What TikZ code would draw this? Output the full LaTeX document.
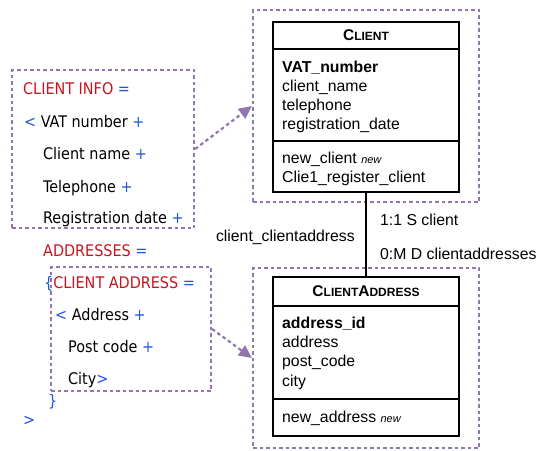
\documentclass[tikz,border=0pt]{standalone}
\usepackage{fontspec}
\setmainfont{Liberation Sans}
\newfontfamily\tahoma{DejaVu Sans Condensed}
\usetikzlibrary{arrows.meta}
\definecolor{dred}{RGB}{200,20,30}
\definecolor{dblue}{RGB}{35,85,215}
\definecolor{dpurple}{RGB}{145,118,178}
\tikzset{
  ddtxt/.style={anchor=base west, inner sep=0pt, font=\tahoma\fontsize{16}{19}\selectfont},
  umltxt/.style={anchor=base west, inner sep=0pt, font=\fontsize{15.8}{18}\selectfont},
  umlbold/.style={umltxt, font=\bfseries\fontsize{15.8}{18}\selectfont},
  hdr/.style={anchor=base, inner sep=0pt, font=\bfseries\fontsize{15.5}{17}\selectfont},
  framebox/.style={draw=dpurple, line width=2.2pt, dash pattern=on 3.5pt off 3pt, inner sep=0pt},
  classbox/.style={draw=black, line width=1.8pt, inner sep=0pt},
  linkarrow/.style={draw=dpurple, line width=2.2pt, dash pattern=on 3.5pt off 3pt, -{Triangle[length=13pt,width=12pt]}},
}
\newcommand{\smc}[1]{{\fontsize{12}{13}\selectfont #1}}
\newcommand{\newtag}{{\itshape\fontsize{11}{12}\selectfont new}}
\begin{document}
\begin{tikzpicture}[x=1pt,y=-1pt]
\useasboundingbox (0,0) rectangle (540,450);

% dashed frames
\node[framebox, minimum width=182pt, minimum height=158pt] (info) at (103,149) {};
\node[framebox, minimum width=160pt, minimum height=124pt] (addrframe) at (131,329) {};
\node[framebox, minimum width=226pt, minimum height=192pt] (clframe) at (366,106) {};
\node[framebox, minimum width=226pt, minimum height=180pt] (caframe) at (366,358) {};

% class boxes
\node[classbox, minimum width=186pt, minimum height=170pt] (cl) at (366,107) {};
\draw[line width=1.8pt] (273,49) -- (459,49);
\draw[line width=1.8pt] (273,141) -- (459,141);
\node[classbox, minimum width=186pt, minimum height=159pt] (ca) at (366,356.5) {};
\draw[line width=1.8pt] (273,306) -- (459,306);
\draw[line width=1.8pt] (273,399) -- (459,399);

% client class text
\node[hdr] (clh) at (366,40) {C\smc{LIENT}};
\node[umlbold] (c1) at (282,72) {VAT\_number};
\node[umltxt] (c2) at (282,91) {client\_name};
\node[umltxt] (c3) at (282,110) {telephone};
\node[umltxt] (c4) at (282,129) {registration\_date};
\node[umltxt] (c5) at (282,163) {new\_client \newtag};
\node[umltxt] (c6) at (282,182) {Clie1\_register\_client};

% client address class text
\node[hdr] (cah) at (366,296) {C\smc{LIENT}A\smc{DDRESS}};
\node[umlbold] (a1) at (282,328) {address\_id};
\node[umltxt] (a2) at (282,347) {address};
\node[umltxt] (a3) at (282,366) {post\_code};
\node[umltxt] (a4) at (282,386) {city};
\node[umltxt] (a5) at (282,422) {new\_address \newtag};

% association
\draw[line width=2.5pt] (cl.south) -- (ca.north);
\node[umltxt] (r1) at (380,225) {1:1 S client};
\node[umltxt, anchor=base east] (r2) at (355,241) {client\_clientaddress};
\node[umltxt] (r3) at (380,259) {0:M D clientaddresses};

% data dictionary text
\node[ddtxt] (d1) at (23,94) {\textcolor{dred}{CLIENT INFO} \textcolor{dblue}{=}};
\node[ddtxt] (d2) at (24,127) {\textcolor{dblue}{<} VAT number \textcolor{dblue}{+}};
\node[ddtxt] (d3) at (43,159) {Client name \textcolor{dblue}{+}};
\node[ddtxt] (d4) at (43,192) {Telephone \textcolor{dblue}{+}};
\node[ddtxt] (d5) at (43,223) {Registration date \textcolor{dblue}{+}};
\node[ddtxt] (d6) at (43,256) {\textcolor{dred}{ADDRESSES} \textcolor{dblue}{=}};
\node[ddtxt] (d7) at (44,288) {\textcolor{dblue}{\{}\textcolor{dred}{CLIENT ADDRESS} \textcolor{dblue}{=}};
\node[ddtxt] (d8) at (55,320) {\textcolor{dblue}{<} Address \textcolor{dblue}{+}};
\node[ddtxt] (d9) at (68,352) {Post code \textcolor{dblue}{+}};
\node[ddtxt] (d10) at (68,384) {City\textcolor{dblue}{>}};
\node[ddtxt] (d11) at (48,406) {\textcolor{dblue}{\}}};
\node[ddtxt] (d12) at (23,425) {\textcolor{dblue}{>}};

% links
\draw[linkarrow] (info.east) -- (clframe.west);
\draw[linkarrow] (addrframe.east) -- (caframe.west);
\end{tikzpicture}
\end{document}
